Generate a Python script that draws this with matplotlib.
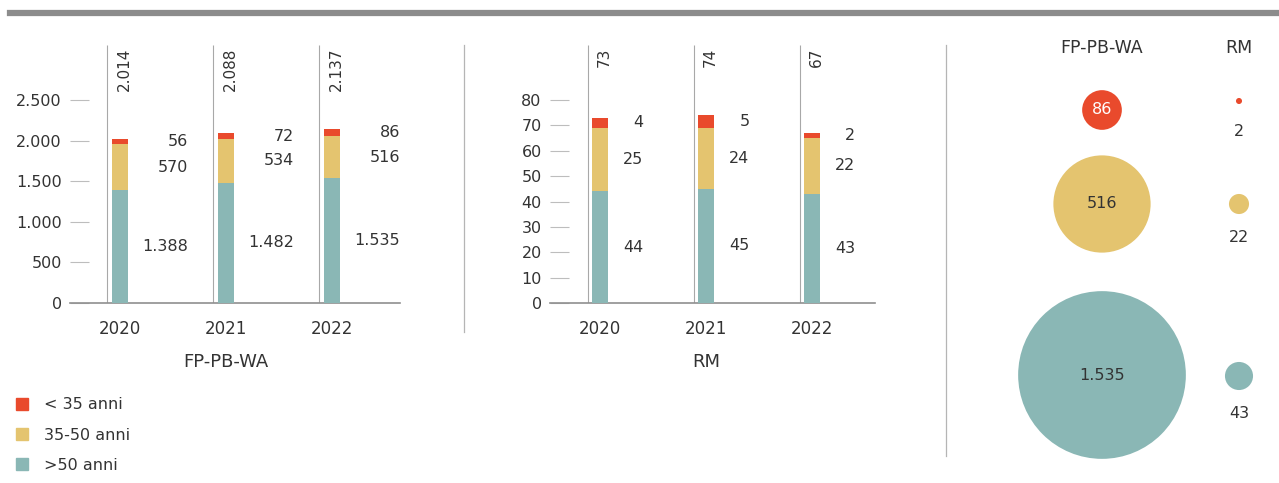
import matplotlib.pyplot as plt
from matplotlib.lines import Line2D
from matplotlib.patches import Patch

plt.rcParams['font.family'] = ['DejaVu Sans']

years = ['2020', '2021', '2022']
fp_under35 = [56, 72, 86]
fp_35_50 = [570, 534, 516]
fp_over50 = [1388, 1482, 1535]
fp_total = [2014, 2088, 2137]
rm_under35 = [4, 5, 2]
rm_35_50 = [25, 24, 22]
rm_over50 = [44, 45, 43]
rm_total = [73, 74, 67]
fp_ticks = [0, 500, 1000, 1500, 2000, 2500]
rm_ticks = [0, 10, 20, 30, 40, 50, 60, 70, 80]
legend_labels = ['< 35 anni', '35-50 anni', '>50 anni']

RED = '#e94a2c'
YEL = '#e4c46f'
TEAL = '#8ab7b5'
TXT = '#333333'
GRID = '#bdbdbd'
FS = 11.5

W, H = 1279, 483
fig = plt.figure(figsize=(W / 100, H / 100), dpi=100)


def fmt(v):
    return f"{v:,}".replace(",", ".")


def px_axes(x0, y0, x1, y1):
    # pixel box (top-left origin) -> figure fraction
    return fig.add_axes([x0 / W, (H - y1) / H, (x1 - x0) / W, (y1 - y0) / H])


def bar_panel(x0, x1, x_first, ymax_at_px100, ticks, low, mid, high, total, lab_dx, line_dx):
    ax = px_axes(x0, 45, x1, 303)
    pitch = 106.0
    ax.set_xlim(-(x_first - x0) / pitch, (x1 - x_first) / pitch)
    top = ymax_at_px100 * 258 / 203
    ax.set_ylim(0, top)
    xs = range(len(years))
    w = 16 / pitch
    ax.bar(xs, high, w, color=TEAL, zorder=3)
    ax.bar(xs, mid, w, bottom=high, color=YEL, zorder=3)
    b2 = [a + b for a, b in zip(high, mid)]
    ax.bar(xs, low, w, bottom=b2, color=RED, zorder=3)
    ax.vlines([x + line_dx for x in xs], 0, top, color='#a8a8a8', lw=0.8, zorder=2)
    for i in xs:
        ax.text(i + lab_dx, high[i] / 2, fmt(high[i]), ha='right', va='center', fontsize=FS, color=TXT)
        ax.text(i + lab_dx, high[i] + mid[i] / 2, fmt(mid[i]), ha='right', va='center', fontsize=FS, color=TXT)
        ax.text(i + lab_dx, b2[i] + low[i] / 2, fmt(low[i]), ha='right', va='center', fontsize=FS, color=TXT)
        ax.text(i + 0.04, top - top * 0.01, fmt(total[i]), rotation=90, ha='center', va='top', fontsize=11, color=TXT)
    for s in ['top', 'right', 'left']:
        ax.spines[s].set_visible(False)
    ax.spines['bottom'].set_color('#8f8f8f')
    ax.spines['bottom'].set_linewidth(1.2)
    ax.set_yticks(ticks)
    ax.set_yticklabels([fmt(t) for t in ticks])
    ax.tick_params(axis='y', direction='in', length=14, width=0.8, color=GRID, pad=6, labelsize=FS, labelcolor=TXT)
    ax.set_xticks(list(xs))
    ax.set_xticklabels(years)
    ax.tick_params(axis='x', length=0, pad=12, labelsize=12, labelcolor=TXT)
    ax.patch.set_alpha(0)
    return ax


bar_panel(70, 400, 120, 2500, fp_ticks, fp_under35, fp_35_50, fp_over50, fp_total, 0.64, -0.123)
bar_panel(550, 875, 600, 80, rm_ticks, rm_under35, rm_35_50, rm_over50, rm_total, 0.41, -0.113)

fig.text(226 / W, 1 - 362 / H, 'FP-PB-WA', ha='center', va='center', fontsize=13, color=TXT)
fig.text(706 / W, 1 - 362 / H, 'RM', ha='center', va='center', fontsize=13, color=TXT)

# top band and separators
fig.add_artist(Line2D([10 / W, 1], [1 - 13 / H, 1 - 13 / H], color='#8c8c8c', lw=4.5))
fig.add_artist(Line2D([464 / W, 464 / W], [1 - 45 / H, 1 - 332 / H], color='#b5b5b5', lw=0.9))
fig.add_artist(Line2D([946 / W, 946 / W], [1 - 45 / H, 1 - 456 / H], color='#b5b5b5', lw=0.9))

# bubble panel, axes in pixel units
bx = px_axes(946, 20, W, H)
bx.set_xlim(946, W)
bx.set_ylim(H, 20)
bx.axis('off')
bub_fp = [fp_under35[2], fp_35_50[2], fp_over50[2]]
bub_rm = [rm_under35[2], rm_35_50[2], rm_over50[2]]
cols = [RED, YEL, TEAL]
fp_rows = [110, 204, 375]
rm_rows = [101, 204, 376]
k = 9.5
bx.scatter([1102] * 3, fp_rows, s=[k * v for v in bub_fp], c=cols, linewidths=0)
bx.scatter([1239] * 3, rm_rows, s=[k * v for v in bub_rm], c=cols, linewidths=0)
for v, y, c in zip(bub_fp, fp_rows, ['white', TXT, TXT]):
    bx.text(1102, y, fmt(v), ha='center', va='center', fontsize=11.5, color=c)
for v, y in zip(bub_rm, [131, 237, 413]):
    bx.text(1239, y, fmt(v), ha='center', va='center', fontsize=11.5, color=TXT)
bx.text(1102, 48, 'FP-PB-WA', ha='center', va='center', fontsize=12.5, color=TXT)
bx.text(1239, 48, 'RM', ha='center', va='center', fontsize=12.5, color=TXT)

handles = [Patch(color=c) for c in cols]
fig.legend(handles, legend_labels, loc='upper left', bbox_to_anchor=(10 / W, 1 - 391 / H),
           frameon=False, fontsize=11.5, handlelength=0.75, handleheight=0.75,
           handletextpad=1.0, labelspacing=0.95, labelcolor=TXT, borderaxespad=0)

fig.savefig('out.png', dpi=100)
